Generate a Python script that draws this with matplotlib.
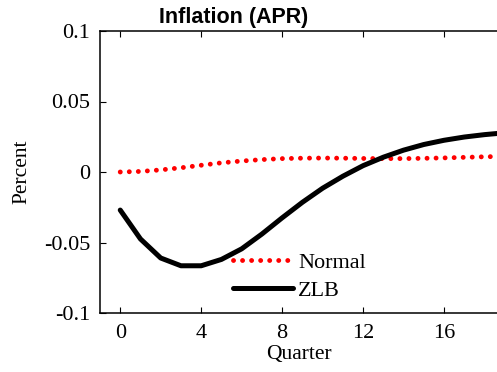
import matplotlib
matplotlib.use('Agg')
import matplotlib.pyplot as plt

# ===== DATA =====
quarters = list(range(0, 21))
normal = [0.0, 0.0004, 0.0015, 0.003, 0.0048, 0.0065, 0.0078, 0.0088, 0.0095, 0.0098,
          0.0099, 0.0098, 0.0096, 0.0095, 0.0095, 0.0097, 0.0100, 0.0104, 0.0108, 0.0111, 0.0113]
zlb = [-0.027, -0.0475, -0.061, -0.0665, -0.0665, -0.062, -0.0545, -0.044, -0.0325, -0.0215,
       -0.0115, -0.003, 0.0045, 0.0105, 0.0155, 0.0195, 0.0225, 0.0248, 0.0265, 0.0278, 0.0288]
xticks = [0, 4, 8, 12, 16]
yticks = [-0.1, -0.05, 0, 0.05, 0.1]
yticklabels = ['-0.1', '-0.05', '0', '0.05', '0.1']

serif = ['Liberation Serif', 'DejaVu Serif']

fig = plt.figure(figsize=(4.97, 3.72), dpi=100)
ax = fig.add_axes([100/497, 59/372, 425/497, 282/372])

ax.plot(quarters, normal, color='red', linewidth=3.5, linestyle=(0, (0.01, 1.85)),
        dash_capstyle='round', label='Normal')
ax.plot(quarters, zlb, color='black', linewidth=3.6, solid_capstyle='round', label='ZLB')

ax.set_xlim(-1, 20)
ax.set_ylim(-0.1, 0.1)
ax.set_xticks(xticks)
ax.set_xticklabels([str(t) for t in xticks], fontfamily=serif, fontsize=16)
ax.set_yticks(yticks)
ax.set_yticklabels(yticklabels, fontfamily=serif, fontsize=16)
ax.tick_params(direction='in', length=4, width=0.8, top=True, right=True)
ax.tick_params(axis='x', pad=8)
ax.tick_params(axis='y', pad=7)
for s in ax.spines.values():
    s.set_linewidth(1.1)

fig.text(234/497, 1 - 18/372, 'Inflation (APR)', ha='center', va='center',
         fontfamily=['Liberation Sans', 'DejaVu Sans'], fontweight='bold', fontsize=15.5)
fig.text(299/497, 1 - 355/372, 'Quarter', ha='center', va='center', fontfamily=serif, fontsize=15.5)
fig.text(22/497, 1 - 172/372, 'Percent', ha='center', va='center', rotation=90,
         fontfamily=serif, fontsize=15.5)

leg = ax.legend(loc='upper left', bbox_to_anchor=(133/425, 61/282), frameon=False,
                prop={'family': serif, 'size': 16}, handlelength=2.7, handletextpad=0.22,
                labelspacing=0.35, borderaxespad=0, borderpad=0)

fig.savefig('out.png', dpi=100)
